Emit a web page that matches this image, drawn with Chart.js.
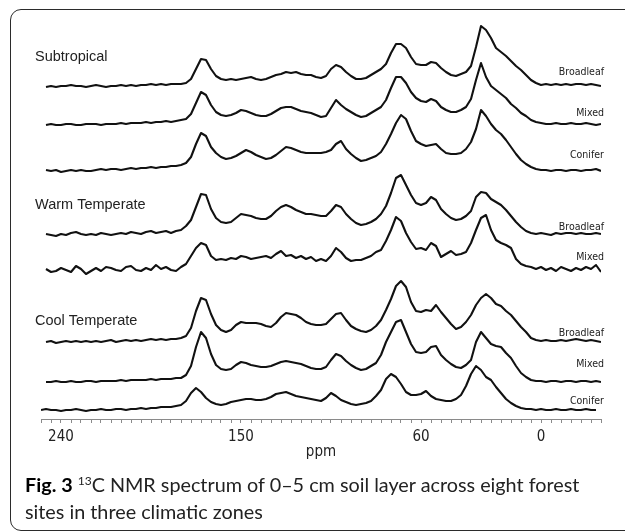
<!DOCTYPE html>
<html>
<head>
<meta charset="utf-8">
<script src="https://cdn.jsdelivr.net/npm/chart.js@4.4.1/dist/chart.umd.min.js"></script>
<style>
    body { margin: 0; width: 625px; height: 532px; overflow: hidden; background: #fff; position: relative; }
    #marco { position: absolute; left: 10px; top: 9px; width: 640px; height: 522px; box-sizing: border-box; border: 1.5px solid #2b2b2b; border-radius: 11px; }
    #grafico { position: absolute; left: 0; top: 0; }
    .caption { position: absolute; left: 25px; font-family: Lato, "Open Sans", sans-serif; font-size: 19.8px; line-height: 27px; color: #222; white-space: nowrap; }
    .caption b { color: #000; }
    .caption sup { font-size: 12px; vertical-align: 7px; line-height: 0; }
</style>
</head>
<body>
<div id="marco"></div>
<canvas id="grafico" width="625" height="532"></canvas>
<div class="caption" style="top: 471px"><b>Fig. 3</b> <sup>13</sup>C NMR spectrum of 0–5 cm soil layer across eight forest</div>
<div class="caption" style="top: 498px">sites in three climatic zones</div>
<script>
// chemical shift grid (ppm), shared by all spectra
const ppm = [
    250, 247.5, 245, 242.5, 240, 237.5, 235, 232.5, 230, 227.5,
    225, 222.5, 220, 217.5, 215, 212.5, 210, 207.5, 205, 202.5,
    200, 197.5, 195, 192.5, 190, 187.5, 185, 182.5, 180, 177.5,
    175, 172.5, 170, 167.5, 165, 162.5, 160, 157.5, 155, 152.5,
    150, 147.5, 145, 142.5, 140, 137.5, 135, 132.5, 130, 127.5,
    125, 122.5, 120, 117.5, 115, 112.5, 110, 107.5, 105, 102.5,
    100, 97.5, 95, 92.5, 90, 87.5, 85, 82.5, 80, 77.5,
    75, 72.5, 70, 67.5, 65, 62.5, 60, 57.5, 55, 52.5,
    50, 47.5, 45, 42.5, 40, 37.5, 35, 32.5, 30, 27.5,
    25, 22.5, 20, 17.5, 15, 12.5, 10, 7.5, 5, 2.5,
    0, -2.5, -5, -7.5, -10, -12.5, -15, -17.5, -20, -22.5,
    -25, -27.5, -30
];

const tickLabels = [240, 150, 60, 0];

const zones = ["Subtropical", "Warm Temperate", "Cool Temperate"];
const sites = ["Broadleaf", "Mixed", "Conifer", "Broadleaf", "Mixed", "Broadleaf", "Mixed", "Conifer"];

// vertical stacking offset of each spectrum (a.u.)
const offsets = [332, 294, 248, 184, 149, 77, 37, 9];

const subBroadleaf = [
    null, 0, 1, 0, 1, 1, 2, 1, 1, 0,
    1, 2, 1, 0, 1, 1, 2, 1, 2, 1,
    2, 2, 3, 2, 3, 2, 3, 3, 3, 4,
    8, 18, 28, 27, 18, 11, 8, 7, 8, 7,
    8, 9, 10, 8, 7, 8, 10, 12, 13, 15,
    14, 15, 13, 12, 12, 10, 9, 11, 18, 22,
    20, 15, 11, 8, 8, 9, 12, 15, 18, 23,
    34, 43, 43, 39, 30, 23, 22, 22, 25, 24,
    19, 15, 12, 11, 13, 15, 21, 40, 61, 57,
    49, 39, 35, 31, 26, 21, 17, 12, 7, 4,
    2, 3, 2, 3, 2, 3, 2, 3, 3, 2,
    3, 2, 1
];

const subMixed = [
    null, 0, 1, 0, 0, 1, 1, 0, 0, 1,
    1, 1, 0, 1, 1, 1, 2, 1, 2, 2,
    2, 3, 2, 3, 3, 4, 3, 4, 5, 6,
    11, 22, 33, 30, 20, 13, 10, 9, 10, 12,
    15, 14, 12, 10, 9, 9, 11, 14, 17, 18,
    18, 16, 14, 13, 12, 10, 8, 9, 17, 25,
    20, 16, 13, 10, 8, 9, 12, 15, 18, 25,
    37, 48, 48, 42, 33, 27, 24, 23, 26, 24,
    18, 15, 13, 13, 15, 18, 26, 45, 62, 48,
    39, 35, 31, 27, 21, 17, 12, 9, 5, 3,
    2, 1, 1, 2, 1, 1, 2, 1, 1, 2,
    1, 0, 1
];

const subConifer = [
    null, 1, 0, 1, -1, 0, 1, 0, 1, 0,
    0, 1, 2, 1, 2, 2, 1, 2, 3, 2,
    3, 3, 4, 3, 4, 4, 5, 5, 6, 8,
    14, 27, 38, 35, 24, 18, 14, 12, 13, 15,
    18, 21, 19, 16, 14, 12, 13, 16, 20, 24,
    23, 21, 19, 18, 18, 18, 18, 19, 21, 27,
    30, 22, 17, 13, 10, 11, 13, 15, 19, 27,
    37, 48, 56, 52, 40, 30, 27, 25, 26, 27,
    22, 18, 17, 17, 18, 22, 29, 42, 61, 55,
    47, 41, 37, 31, 24, 17, 11, 7, 4, 2,
    1, 1, 0, 1, 1, 0, 1, 1, 0, 1,
    1, 2, 0
];

const warmBroadleaf = [
    null, 1, 0, -1, 1, 0, 2, 3, 1, 0,
    1, 0, 2, 1, 0, 1, 2, 1, 3, 2,
    1, 3, 4, 2, 3, 4, 2, 4, 5, 9,
    15, 28, 41, 40, 26, 17, 13, 12, 13, 17,
    21, 20, 19, 17, 16, 16, 19, 24, 28, 30,
    28, 25, 23, 21, 21, 20, 19, 19, 24, 30,
    28, 21, 16, 12, 10, 11, 13, 16, 21, 29,
    42, 57, 60, 50, 40, 32, 30, 32, 38, 35,
    26, 21, 17, 15, 16, 19, 24, 38, 43, 42,
    36, 33, 30, 25, 19, 13, 8, 4, 2, 1,
    2, 1, 0, 2, 1, 2, 2, 1, 2, 1,
    1, 2, 1
];

const warmMixed = [
    null, 1, -2, -1, 2, 0, -2, 4, 1, -4,
    -1, 2, -1, 3, 2, 0, -1, 3, 4, 0,
    -1, 2, 0, 5, 1, 3, 0, -1, 3, 6,
    14, 22, 27, 25, 14, 10, 11, 10, 12, 11,
    14, 13, 11, 12, 13, 14, 12, 16, 19, 14,
    15, 12, 14, 11, 13, 9, 11, 9, 14, 22,
    18, 12, 9, 10, 10, 12, 14, 18, 20, 29,
    40, 53, 49, 37, 28, 21, 22, 20, 27, 24,
    13, 16, 19, 15, 16, 18, 27, 40, 52, 55,
    40, 30, 27, 25, 22, 11, 6, 4, 3, 1,
    3, 0, 2, -1, 3, 1, -1, 2, 0, 3,
    1, 5, -2
];

const coolBroadleaf = [
    null, 0, 1, -1, 0, 1, 0, 1, 0, 1,
    0, 1, 0, 1, 2, 0, 1, 2, 1, 2,
    1, 2, 3, 2, 3, 2, 3, 3, 4, 6,
    14, 31, 44, 42, 28, 17, 12, 10, 12, 17,
    20, 19, 19, 19, 18, 16, 15, 19, 25, 29,
    28, 27, 24, 20, 18, 17, 17, 18, 23, 28,
    29, 22, 16, 13, 11, 10, 12, 16, 22, 32,
    43, 56, 61, 55, 40, 31, 30, 32, 31, 37,
    30, 24, 18, 13, 15, 20, 27, 37, 44, 48,
    44, 38, 36, 31, 27, 21, 15, 10, 4, 2,
    1, 2, 1, 1, 2, 1, 2, 3, 2, 1,
    2, 1, 0
];

const coolMixed = [
    null, 0, 0, 1, 0, 0, 1, 0, 0, 1,
    1, 0, 1, 1, 1, 1, 2, 1, 2, 2,
    2, 2, 3, 2, 3, 3, 3, 4, 4, 7,
    16, 35, 50, 44, 28, 17, 13, 12, 13, 17,
    20, 19, 17, 16, 15, 15, 16, 18, 20, 21,
    20, 19, 18, 16, 14, 13, 13, 15, 22, 28,
    26, 21, 17, 14, 12, 13, 16, 19, 27, 40,
    50, 60, 62, 50, 38, 30, 29, 30, 35, 36,
    27, 22, 18, 15, 14, 17, 22, 40, 50, 44,
    38, 36, 35, 29, 24, 16, 9, 5, 2, 1,
    1, 0, 1, 1, 0, 1, 1, 0, 1, 1,
    0, 1, 0
];

const coolConifer = [
    0, 1, 0, 0, -1, 0, 0, 1, 0, -1,
    0, 0, 1, 0, 0, 1, 1, 0, 1, 1,
    2, 1, 2, 2, 3, 3, 3, 4, 5, 9,
    17, 22, 18, 12, 8, 6, 5, 6, 8, 9,
    10, 11, 11, 10, 10, 11, 13, 16, 17, 18,
    16, 14, 13, 12, 11, 10, 9, 12, 17, 14,
    10, 8, 6, 5, 6, 7, 9, 14, 20, 31,
    36, 33, 26, 18, 15, 15, 16, 19, 14, 11,
    10, 9, 9, 11, 15, 24, 36, 44, 40, 33,
    30, 23, 17, 11, 7, 4, 2, 1, 1, 0,
    1, 0, 0, 1, 0, 0, 1, 0, 0, 1,
    0, 0, null
];

const spectra = [subBroadleaf, subMixed, subConifer, warmBroadleaf, warmMixed, coolBroadleaf, coolMixed, coolConifer];

// text placement (page px)
const zoneLabelY = [57, 205, 321];
const siteLabelY = [72, 113, 155, 227, 257, 333, 364, 401];

function armarSerie(valores, offset) {
    const puntos = [];
    valores.forEach((v, i) => {
        if (v === null) return;
        puntos.push({ x: ppm[i], y: offset + v });
    });
    return puntos;
}

const etiquetas = {
    id: "etiquetas",
    afterDatasetsDraw(chart) {
        const ctx = chart.ctx;
        ctx.save();
        ctx.fillStyle = "#222";
        ctx.textBaseline = "middle";
        ctx.textAlign = "left";
        ctx.font = "14.5px 'Liberation Sans', Arial, sans-serif";
        zones.forEach((z, k) => ctx.fillText(z, 35, zoneLabelY[k]));
        ctx.textAlign = "right";
        ctx.font = "10.5px 'DejaVu Sans Condensed', 'DejaVu Sans', sans-serif";
        sites.forEach((s, k) => ctx.fillText(s, 604, siteLabelY[k]));
        ctx.restore();
    }
};

const fuenteEje = { family: "'DejaVu Sans Condensed', 'DejaVu Sans', sans-serif", size: 15 };

new Chart(document.getElementById("grafico"), {
    type: "line",
    data: {
        datasets: spectra.map((s, k) => ({
            label: sites[k],
            data: armarSerie(s, offsets[k]),
            borderColor: "#111",
            borderWidth: 2.1,
            pointRadius: 0,
            tension: 0,
            fill: false,
            borderJoinStyle: "round"
        }))
    },
    options: {
        responsive: false,
        devicePixelRatio: 1,
        animation: false,
        layout: { padding: { left: 41, right: 24, top: 9, bottom: 69 } },
        plugins: { legend: { display: false }, tooltip: { enabled: false } },
        scales: {
            x: {
                type: "linear",
                reverse: true,
                min: -30,
                max: 250,
                afterFit: scale => { scale.height = 44; },
                border: { display: true, color: "#8a8a8a", width: 1 },
                grid: { drawOnChartArea: false, drawTicks: true, tickLength: 4, color: "#8a8a8a" },
                ticks: {
                    stepSize: 5,
                    autoSkip: false,
                    maxRotation: 0,
                    padding: 5,
                    color: "#222",
                    font: fuenteEje,
                    callback: v => tickLabels.includes(v) ? String(v) : ""
                },
                title: { display: true, text: "ppm", color: "#222", font: fuenteEje, padding: { top: 0, bottom: 2 } }
            },
            y: { display: false, min: 0, max: 410 }
        }
    },
    plugins: [etiquetas]
});
</script>
</body>
</html>
